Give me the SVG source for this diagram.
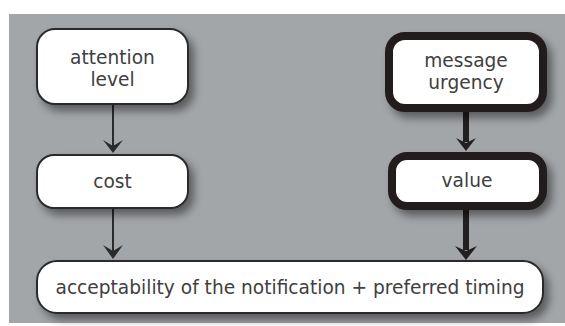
<svg xmlns="http://www.w3.org/2000/svg" width="565" height="326" viewBox="0 0 565 326">
  <defs>
    <style>
      .box { fill: #ffffff; stroke: #2b2b2b; stroke-width: 2; filter: url(#sh); }
      .bold { fill: #ffffff; stroke: #231e1f; stroke-width: 8; filter: url(#sh); }
      .lbl { font-family: "DejaVu Sans", Verdana, sans-serif; font-size: 18.6px; fill: #404040; text-anchor: middle; }
      .thin { stroke: #2b2b2b; stroke-width: 2; fill: none; }
      .thick { stroke: #231e1f; stroke-width: 6; fill: none; }
      .head { fill: #2b2b2b; }
      .headb { fill: #231e1f; }
    </style>
    <filter id="sh" x="-20%" y="-30%" width="150%" height="170%">
      <feDropShadow dx="5" dy="6" stdDeviation="4" flood-color="#000000" flood-opacity="0.45"/>
    </filter>
  </defs>
  <rect x="0" y="0" width="565" height="326" fill="#ffffff"/>
  <rect x="9" y="14" width="556" height="309" fill="#a3a6a9"/>

  <g id="connectors">
    <line class="thin" x1="113" y1="104" x2="113" y2="146"/>
    <polygon class="head" points="103,140 113,146 123,140 113,153"/>
    <line class="thin" x1="113" y1="208" x2="113" y2="251"/>
    <polygon class="head" points="103,245 113,251 123,245 113,259"/>
    <line class="thick" x1="466" y1="112" x2="466" y2="142"/>
    <polygon class="headb" points="456,138 466,143 476,138 466,151"/>
    <line class="thick" x1="466" y1="210" x2="466" y2="250"/>
    <polygon class="headb" points="455,246 466,251 477,246 466,260"/>
  </g>

  <g id="attention-level">
    <rect class="box" x="37" y="29" width="151" height="75" rx="18"/>
    <text class="lbl" x="112.5" y="64">attention</text>
    <text class="lbl" x="112.5" y="86">level</text>
  </g>
  <g id="cost">
    <rect class="box" x="37" y="155" width="151" height="53" rx="17"/>
    <text class="lbl" x="112.5" y="188">cost</text>
  </g>
  <g id="message-urgency">
    <rect class="bold" x="389" y="36" width="154" height="72" rx="16"/>
    <text class="lbl" x="466" y="67">message</text>
    <text class="lbl" x="466" y="89">urgency</text>
  </g>
  <g id="value">
    <rect class="bold" x="392" y="156" width="151" height="50" rx="15"/>
    <text class="lbl" x="467" y="187">value</text>
  </g>
  <g id="acceptability">
    <rect class="box" x="37" y="261" width="506" height="52" rx="20"/>
    <text class="lbl" x="290" y="294">acceptability of the notification + preferred timing</text>
  </g>
</svg>
